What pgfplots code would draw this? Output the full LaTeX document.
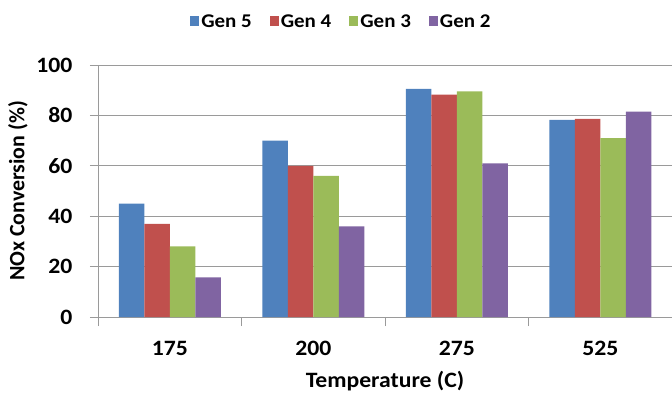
\documentclass[border=0pt]{standalone}
\usepackage{pgfplots}
\pgfplotsset{compat=1.18}
\usepackage{fontspec}
\setmainfont{Carlito}
\newfontfamily\hfont{Carlito}[FakeStretch=1.08]
\definecolor{cBlue}{HTML}{4F81BD}
\definecolor{cRed}{HTML}{C0504D}
\definecolor{cGreen}{HTML}{9BBB59}
\definecolor{cPurple}{HTML}{8064A2}
\definecolor{cGrid}{HTML}{9A9A9A}
\begin{document}
\begin{tikzpicture}
\begin{axis}[
  scale only axis,
  width=574bp, height=252bp,
  ybar=0pt, bar width=25.5bp,
  xmin=-0.5, xmax=3.5,
  ymin=0, ymax=100,
  ytick={0,20,40,60,80,100},
  xtick={0,1,2,3},
  xticklabels={175,200,275,525},
  minor xtick={-0.5,0.5,1.5,2.5,3.5},
  major x tick style={draw=none},
  minor tick length=9bp,
  major tick length=8bp,
  tick align=outside,
  tick style={cGrid, line width=0.8bp},
  axis x line*=bottom, axis y line*=left,
  axis line style={-, cGrid, line width=0.8bp},
  ymajorgrids,
  grid style={cGrid, line width=0.8bp},
  /pgf/number format/assume math mode=true,
  ticklabel style={font=\hfont\fontsize{22}{24}\selectfont\bfseries},
  yticklabel style={xshift=-14bp},
  xticklabel style={yshift=-13bp},
  xlabel={Temperature (C)},
  ylabel={NOx Conversion (\%)},
  xlabel style={font=\hfont\fontsize{22}{24}\selectfont\bfseries, yshift=-8bp},
  ylabel style={font=\fontsize{22}{24}\selectfont\bfseries, yshift=2bp},
  legend columns=-1,
  legend style={at={(0.424,1.171)}, anchor=center, draw=none, fill=none,
    font=\hfont\fontsize{19.5}{21}\selectfont\bfseries,
    /tikz/every even column/.append style={column sep=16bp}},
  legend image code/.code={\fill[#1] (0bp,-4bp) rectangle (9bp,6bp);},
  enlarge x limits=false,
]
\addplot[fill=cBlue, draw=none] coordinates {(0,45) (1,70) (2,90.5) (3,78.2)};
\addplot[fill=cRed, draw=none] coordinates {(0,37) (1,60) (2,88.2) (3,78.6)};
\addplot[fill=cGreen, draw=none] coordinates {(0,28) (1,56) (2,89.5) (3,71)};
\addplot[fill=cPurple, draw=none] coordinates {(0,15.7) (1,36) (2,61) (3,81.5)};
\legend{Gen 5, Gen 4, Gen 3, Gen 2}
\end{axis}
\pgfresetboundingbox
\path ([shift={(-98bp,-79bp)}]current axis.south west) rectangle ([shift={(0bp,65bp)}]current axis.north east);
\end{tikzpicture}
\end{document}
